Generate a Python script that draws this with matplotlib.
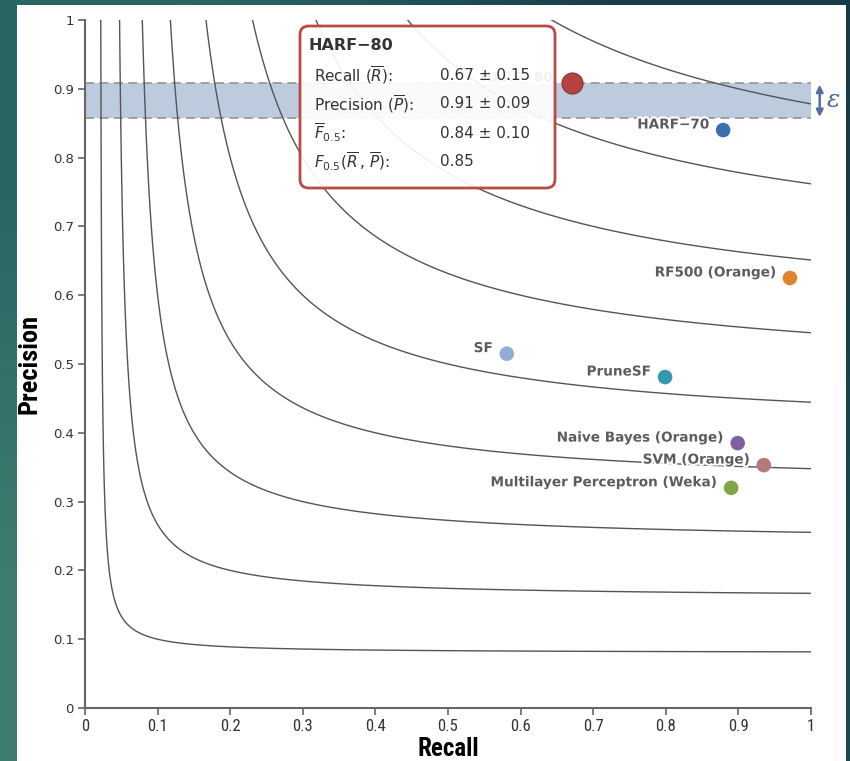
import numpy as np
import matplotlib
matplotlib.use("Agg")
from matplotlib import pyplot as plt
from matplotlib import patheffects as pe
from matplotlib import font_manager as fm
from matplotlib.patches import Rectangle, FancyBboxPatch

# classifiers: recall / precision
names = ["HARF\u221280", "HARF\u221270", "RF500 (Orange)", "SF", "PruneSF",
         "Naive Bayes (Orange)", "SVM (Orange)", "Multilayer Perceptron (Weka)"]
recall = [0.671, 0.879, 0.971, 0.581, 0.799, 0.899, 0.935, 0.890]
precision = [0.908, 0.840, 0.625, 0.515, 0.481, 0.385, 0.353, 0.320]
colors = ["#b5433f", "#3c6db0", "#e0832f", "#93acd8", "#3796b0",
          "#7e5fa2", "#b07b78", "#7fa548"]

# iso F0.5 curves
beta = 0.5
f_levels = [0.1, 0.2, 0.3, 0.4, 0.5, 0.6, 0.7, 0.8, 0.9]

# epsilon band
eps_low, eps_high = 0.857, 0.908

ticks = [0, 0.1, 0.2, 0.3, 0.4, 0.5, 0.6, 0.7, 0.8, 0.9, 1]
tick_labels = ["0", "0.1", "0.2", "0.3", "0.4", "0.5", "0.6", "0.7", "0.8", "0.9", "1"]

tooltip_title = "HARF\u221280"
tooltip_rows = [
    (r"Recall ($\overline{R}$):", "0.67 \u00b1 0.15"),
    (r"Precision ($\overline{P}$):", "0.91 \u00b1 0.09"),
    (r"$\overline{F}_{0.5}$:", "0.84 \u00b1 0.10"),
    (r"$F_{0.5}(\overline{R}\,,\,\overline{P})$:", "0.85"),
]


def pick_font(names_, fallback="DejaVu Sans"):
    for name in names_:
        try:
            fm.findfont(fm.FontProperties(family=name), fallback_to_default=False)
            return name
        except Exception:
            pass
    return fallback


narrow = pick_font(["Liberation Sans Narrow", "DejaVu Sans Condensed", "Roboto Condensed"],
                   "Liberation Sans")
plt.rcParams["mathtext.fontset"] = "dejavusans"

fig = plt.figure(figsize=(8.5, 7.61), dpi=100)

# teal slide background + white panel
bg = fig.add_axes([0, 0, 1, 1], zorder=-10)
grad = np.array([[[0x2a, 0x65, 0x63], [0x17, 0x3c, 0x48]],
                 [[0x3d, 0x7d, 0x70], [0x1c, 0x4a, 0x52]]]) / 255
bg.imshow(grad, extent=[0, 1, 0, 1], aspect="auto", interpolation="bilinear")
bg.add_patch(Rectangle((17 / 850, 0), (846 - 17) / 850, 1 - 5 / 761,
                       facecolor="white", edgecolor="none"))
bg.set_xlim(0, 1)
bg.set_ylim(0, 1)
bg.axis("off")

ax = fig.add_axes([85 / 850, 1 - 708 / 761, (811 - 85) / 850, (708 - 20) / 761])
ax.set_facecolor("none")

# iso curves
R, P = np.meshgrid(np.linspace(0.0005, 1, 1200), np.linspace(0.0005, 1.02, 1200))
F = (1 + beta ** 2) * P * R / (beta ** 2 * P + R)
ax.contour(R, P, F, levels=f_levels, colors="#555555", linewidths=1.0, zorder=2)

# epsilon band
ax.axhspan(eps_low, eps_high, color="#bccbde", zorder=1, lw=0)
for yv in (eps_low, eps_high):
    ax.axhline(yv, color="#9a9a9a", lw=1.3, ls=(0, (5, 3)), zorder=1.5)

ax.annotate("", xy=(1.012, eps_high), xytext=(1.012, eps_low),
            arrowprops=dict(arrowstyle="<|-|>", color="#5570a0", lw=1.8,
                            mutation_scale=10, shrinkA=1, shrinkB=1),
            annotation_clip=False)
ax.text(1.022, (eps_low + eps_high) / 2, "\u03b5", color="#4a6a94", fontsize=18,
        style="italic", family="DejaVu Serif", va="center", ha="left", clip_on=False)

# points and labels
halo = [pe.withStroke(linewidth=3, foreground="white")]
for i, (n, r, p, c) in enumerate(zip(names, recall, precision, colors)):
    big = i == 0
    ax.scatter(r, p, s=230 if big else 110, color=c, zorder=5,
               edgecolors="#8c3532" if big else "none", linewidths=0.8)
    ax.annotate(n, (r, p), xytext=(-14 if big else -10, 4), textcoords="offset points",
                ha="right", va="center", fontsize=9.8, fontweight="bold",
                color="#5c5c5c", path_effects=halo, zorder=4)

# axes styling
ax.set_xlim(0, 1)
ax.set_ylim(0, 1)
for s in ("top", "right"):
    ax.spines[s].set_visible(False)
for s in ("left", "bottom"):
    ax.spines[s].set_color("#666666")
    ax.spines[s].set_linewidth(1.5)
ax.set_xticks(ticks)
ax.set_xticklabels(tick_labels, family=narrow, fontsize=12)
ax.set_yticks(ticks)
ax.set_yticklabels(tick_labels, fontsize=9.5)
ax.tick_params(direction="out", length=5, width=1.2, color="#666666",
               labelcolor="#333333", pad=3)
ax.set_xlabel("Recall", family=narrow, fontweight="bold", fontsize=18, labelpad=2)
ax.set_ylabel("Precision", family=narrow, fontweight="bold", fontsize=19, labelpad=8)

# tooltip
tx0, tx1 = (300 - 85) / 726, (555 - 85) / 726
ty0, ty1 = (708 - 188) / 688, (708 - 26) / 688
box = FancyBboxPatch((tx0, ty0), tx1 - tx0, ty1 - ty0, transform=ax.transAxes,
                     boxstyle="round,pad=0,rounding_size=0.012",
                     mutation_aspect=726 / 688, facecolor=(1, 1, 1, 0.92),
                     edgecolor="#b94a48", lw=2, zorder=10, clip_on=False)
ax.add_patch(box)
ax.text(tx0 + 9 / 726, (708 - 46) / 688, tooltip_title, transform=ax.transAxes,
        fontsize=11.5, fontweight="bold", color="#333333", va="center", zorder=11)
for k, (lab, val) in enumerate(tooltip_rows):
    yy = (708 - (75 + 29 * k)) / 688
    ax.text(tx0 + 14 / 726, yy, lab, transform=ax.transAxes, fontsize=11,
            color="#333333", va="center", zorder=11)
    ax.text(tx0 + 140 / 726, yy, val, transform=ax.transAxes, fontsize=11,
            color="#333333", va="center", zorder=11)

fig.savefig("out.png", dpi=100)
